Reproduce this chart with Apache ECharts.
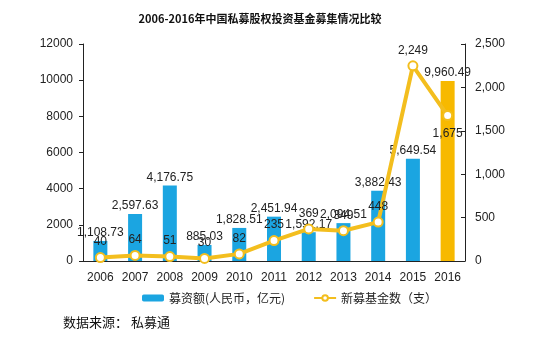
<!DOCTYPE html>
<html><head><meta charset="utf-8">
<script src="https://cdn.jsdelivr.net/npm/echarts@6/dist/echarts.min.js"></script>
<style>html,body{margin:0;padding:0;background:#fff}#c{width:546px;height:340px}</style>
</head><body><div id="c"></div>
<script>
const years = ['2006','2007','2008','2009','2010','2011','2012','2013','2014','2015','2016'];
const raised = [1108.73, 2597.63, 4176.75, 885.03, 1828.51, 2451.94, 1592.17, 2094.51, 3882.43, 5649.54, 9960.49];
const funds = [40, 64, 51, 30, 82, 235, 369, 349, 448, 2249, 1675];
const leftTicks = [0, 12000, 2000];
const rightTicks = [0, 2500, 500];

const BLUE = '#1BA5E1', GOLD = '#F7B900', LINE = '#F3BE1E';
const fmt = (v, d) => v.toLocaleString('en-US', {minimumFractionDigits: d, maximumFractionDigits: d});
const font = 'Liberation Sans, Arial, sans-serif';

const chart = echarts.init(document.getElementById('c'));
chart.setOption({
  animation: false,
  textStyle: {fontFamily: font},
  title: {text: '2006-2016年中国私募股权投资基金募集情况比较', left: 255, textAlign: 'center', top: 8,
    textStyle: {fontSize: 11, fontWeight: 'bold', color: '#111', fontFamily: 'Noto Sans CJK SC, sans-serif'}},
  grid: {left: 83, right: 81, top: 44, bottom: 79},
  legend: {bottom: 31, left: 137, itemGap: 28, itemWidth: 22, itemHeight: 7,
    textStyle: {fontSize: 12, color: '#222', fontFamily: 'Noto Sans CJK SC, sans-serif'},
    data: [{name: '募资额(人民币，亿元)', itemStyle: {color: BLUE}}, {name: '新募基金数（支）'}]},
  graphic: [{type: 'text', left: 63, top: 316, style: {text: '数据来源： 私募通', font: '13px Noto Sans CJK SC, sans-serif', fill: '#111'}}],
  xAxis: {type: 'category', data: years,
    axisLine: {lineStyle: {color: '#222'}},
    axisTick: {inside: true, length: 4, lineStyle: {color: '#222'}},
    axisLabel: {color: '#222', fontSize: 12, margin: 11}},
  yAxis: [
    {type: 'value', min: leftTicks[0], max: leftTicks[1], interval: leftTicks[2],
      splitLine: {show: false},
      axisLine: {show: true, lineStyle: {color: '#222'}},
      axisTick: {show: true, length: 4, lineStyle: {color: '#222'}},
      axisLabel: {color: '#222', fontSize: 12, margin: 10, formatter: v => String(v)}},
    {type: 'value', min: rightTicks[0], max: rightTicks[1], interval: rightTicks[2],
      splitLine: {show: false},
      axisLine: {show: true, lineStyle: {color: '#222'}},
      axisTick: {show: true, inside: true, length: 4, lineStyle: {color: '#222'}},
      axisLabel: {color: '#222', fontSize: 12, margin: 10, formatter: v => fmt(v, 0)}}
  ],
  series: [
    {name: '募资额(人民币，亿元)', type: 'bar', barWidth: 14, yAxisIndex: 0,
      itemStyle: {color: BLUE},
      data: raised.map((v, i) => i === raised.length - 1 ? {value: v, itemStyle: {color: GOLD}} : v),
      label: {show: true, position: 'top', distance: 2, color: '#222', fontSize: 12, formatter: p => fmt(p.value, 2)}},
    {name: '新募基金数（支）', type: 'line', yAxisIndex: 1, z: 5,
      lineStyle: {color: LINE, width: 4},
      itemStyle: {color: '#fff', borderColor: LINE, borderWidth: 2},
      symbol: 'circle', symbolSize: 9,
      data: funds.map((v, i) => i === funds.length - 1 ? {value: v, label: {position: 'bottom', distance: 7}} : v),
      label: {show: true, position: 'top', distance: 4, color: '#222', fontSize: 12, formatter: p => fmt(p.value, 0)}}
  ]
});
</script></body></html>
